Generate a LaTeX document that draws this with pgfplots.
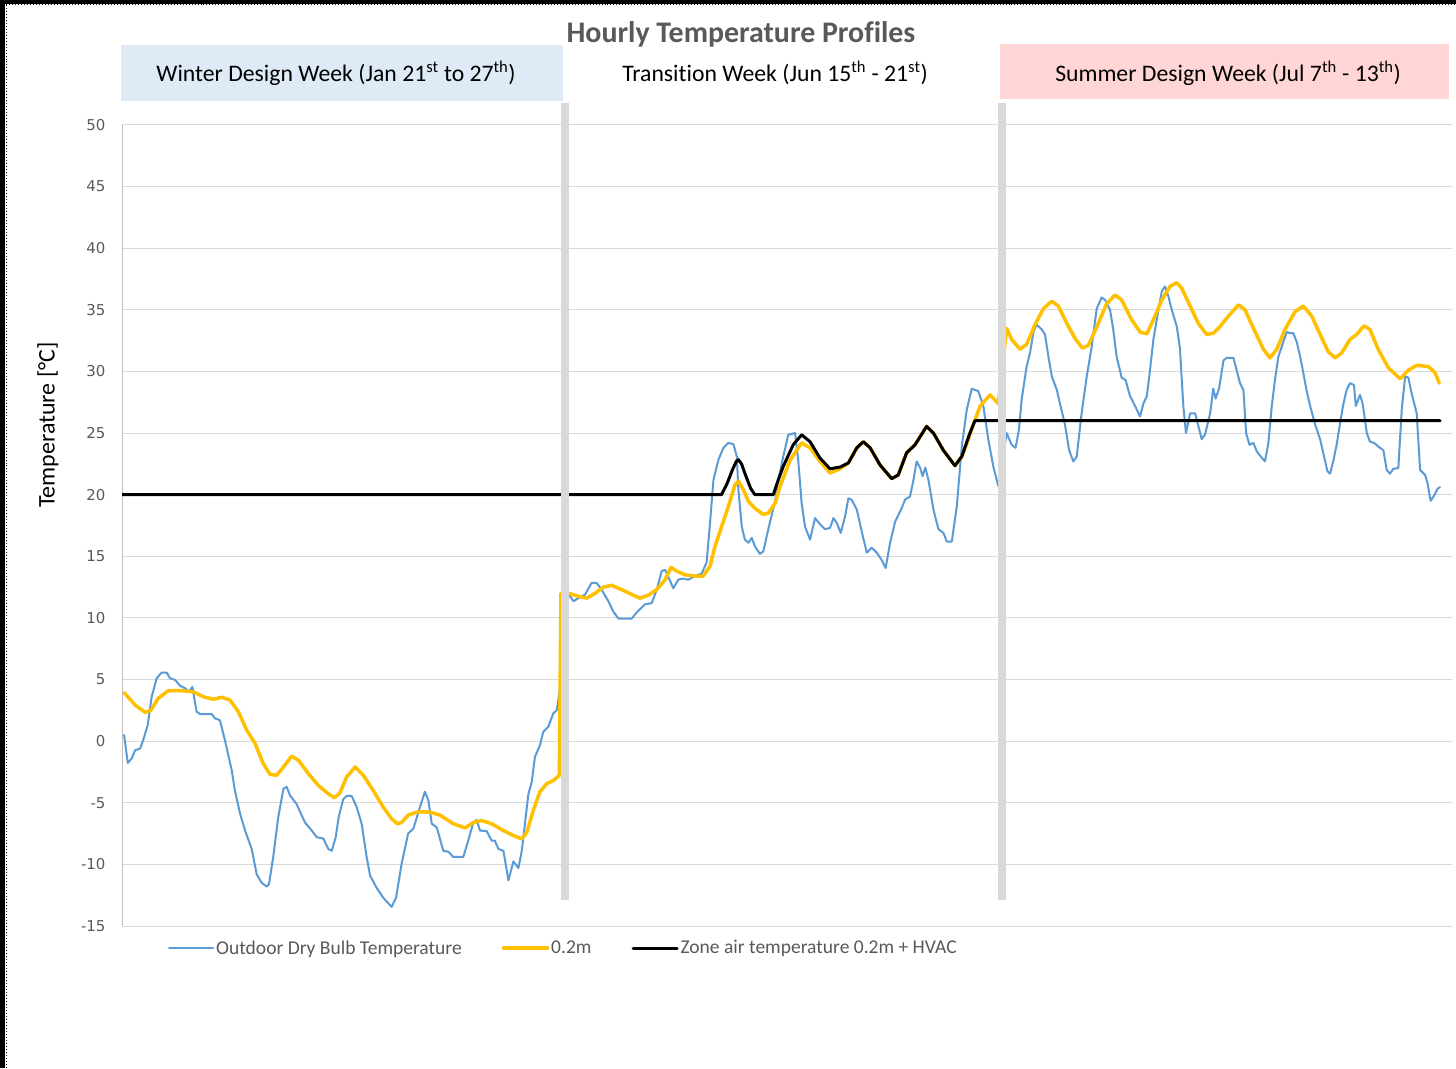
\documentclass[border=0pt]{standalone}
\usepackage{pgfplots}
\pgfplotsset{compat=1.18}
\usepackage{fontspec}
\setmainfont{Carlito}[Ligatures=NoCommon]
\newfontfamily\tickfont{DejaVu Sans}
\definecolor{odb}{HTML}{5B9BD5}
\definecolor{yel}{HTML}{FFC000}
\definecolor{txtgray}{HTML}{595959}
\definecolor{gridgray}{HTML}{D9D9D9}
\definecolor{axgray}{HTML}{BFBFBF}
\definecolor{winterbox}{HTML}{DEEBF7}
\definecolor{summerbox}{HTML}{FFD5D5}
\definecolor{barg}{HTML}{D9D9D9}

\begin{document}
\begin{tikzpicture}[x=1bp,y=1bp]
\useasboundingbox (0,0) rectangle (1456,1068);
\fill[white] (0,0) rectangle (1456,1068);
% header boxes
\fill[winterbox] (121,967) rectangle (563,1023);
\fill[summerbox] (1000,969) rectangle (1449,1024);
\node[font=\fontsize{30}{34}\selectfont\bfseries, text=txtgray] at (741,1034) {Hourly Temperature Profiles};
\node[font=\fontsize{23.8}{27}\selectfont] at (336,995) {Winter Design Week (Jan 21\textsuperscript{st} to 27\textsuperscript{th})};
\node[font=\fontsize{23.8}{27}\selectfont] at (775,995) {Transition Week (Jun 15\textsuperscript{th} - 21\textsuperscript{st})};
\node[font=\fontsize{23.8}{27}\selectfont] at (1228,995) {Summer Design Week (Jul 7\textsuperscript{th} - 13\textsuperscript{th})};
\node[font=\fontsize{24}{27}\selectfont, rotate=90] at (48,643) {Temperature [°C]};

\begin{axis}[
  at={(122bp,142bp)}, anchor=south west,
  scale only axis, width=1330bp, height=801bp,
  xmin=0, xmax=506.67, ymin=-15, ymax=50,
  ytick={-15,-10,...,50}, xtick=\empty,
  ymajorgrids, grid style={draw=gridgray, line width=1bp},
  separate axis lines,
  axis x line*=bottom, axis y line*=left,
  x axis line style={draw=gridgray, line width=1bp, -},
  y axis line style={draw=axgray, line width=1bp, -},
  major tick length=0pt,
  /pgf/number format/assume math mode=true,
  yticklabel style={font=\tickfont\fontsize{15}{18}\selectfont, text=txtgray, anchor=east, xshift=-13bp},
  legend style={at={(axis description cs:0.0346,-0.0275)}, anchor=west, draw=none, fill=none,
    inner sep=0pt, font=\fontsize{19.6}{22}\selectfont, text=txtgray,
    nodes={inner sep=2bp},
    /tikz/every even column/.append style={column sep=38bp}},
  legend columns=3,
  legend cell align=left,
  legend image code/.code={\draw[#1] (0bp,0bp) -- (44bp,0bp);},
  every axis plot/.append style={line join=round, line cap=round},
]
\addplot[odb, line width=2bp] coordinates {
(0.8,0.5) (2.2,-1.77) (3.7,-1.4) (5,-0.73) (6.9,-0.6) (8.1,0.1) (9.8,1.3) (11.3,3.6) (13.2,5.1) (15.1,5.57) (17,5.57) (18.3,5.1) (20.2,4.97) (22.1,4.5) (24,4.3) (25.5,4.0) (26.8,4.4) (28.4,2.4) (29.7,2.2) (34.2,2.2) (35.4,1.85) (37.3,1.7) (39.2,0.08) (41.8,-2.36) (43,-4) (45,-5.9) (46.9,-7.26) (49.4,-8.75) (51.3,-10.8) (53.2,-11.5) (55.1,-11.8) (56,-11.6) (57.6,-9.4) (59.5,-6.2) (61.5,-3.86) (62.7,-3.7) (64,-4.4) (66.5,-5.1) (69.7,-6.6) (72.3,-7.26) (74.2,-7.8) (76.7,-7.9) (78.6,-8.75) (79.9,-8.9) (81.4,-7.8) (82.6,-6.1) (84.3,-4.7) (85.6,-4.45) (87.5,-4.45) (89.4,-5.35) (91.3,-6.7) (93.2,-9.4) (94.5,-10.9) (97,-11.9) (99.5,-12.7) (102.7,-13.45) (104.4,-12.7) (106.5,-9.97) (109,-7.5) (111,-7.1) (113.5,-5.35) (115.4,-4.1) (116.7,-4.8) (118,-6.7) (119.9,-7.0) (122.4,-8.9) (124.3,-8.97) (126.2,-9.4) (130,-9.4) (131.9,-8.07) (133.8,-6.6) (135.1,-6.4) (136.4,-7.26) (138.9,-7.3) (140.8,-8.07) (142,-8.07) (143.4,-8.75) (145.3,-8.9) (147.2,-11.3) (149.1,-9.76) (151,-10.3) (152.3,-8.9) (153.5,-6.7) (154.8,-4.3) (156.1,-3.3) (157.3,-1.28) (159.2,-0.33) (160.5,0.76) (162.4,1.17) (164.3,2.26) (165.6,2.5) (166.9,4.3)
(168.5,11.9) (170.7,11.76) (172,11.35) (173.8,11.6) (176.4,11.9) (178.9,12.84) (180.8,12.84) (182.7,12.3) (185.3,11.35) (187.2,10.5) (189.1,9.95) (194.2,9.95) (196.1,10.46) (199.2,11.1) (201.8,11.2) (203.7,12.3) (205.6,13.8) (206.9,13.9) (208.8,13) (210,12.4) (211.9,13.1) (213.8,13.2) (215.7,13.1) (218.3,13.4) (220.8,13.6) (222.7,14.5) (224,17.7) (225.3,21.2) (227.2,22.84) (229.1,23.8) (231,24.2) (232.9,24.1) (234.2,23.1) (234.8,20.4) (236.1,17.4) (237.3,16.35) (238.6,16.1) (239.9,16.5) (241.1,15.8) (243,15.2) (244.3,15.4) (246.2,17.2) (248.8,19.5) (249.8,21) (251.9,23.1) (253.8,24.86) (256.4,25) (257.6,22.8) (258.9,19.3) (260.2,17.4) (262.1,16.35) (264,18.1) (265.9,17.6) (267.8,17.2) (269.7,17.3) (271,18.1) (272.3,17.7) (273.8,16.9) (275.4,18.2) (276.7,19.7) (277.9,19.6) (279.9,18.8) (281.8,17) (283.7,15.3) (285.6,15.7) (287.5,15.3) (289.4,14.7) (290.9,14.05) (292.6,16.1) (294.5,17.8) (297,18.9) (298.3,19.6) (300.2,19.86) (301.5,21.2) (302.7,22.7) (304,22.2) (305,21.5) (306,22.2) (307.2,21.2) (309.1,18.8) (311,17.2) (312.9,16.9) (314.2,16.2) (316.1,16.2) (318,19.05) (319.9,23.9) (321.8,26.9) (323.7,28.6) (326.2,28.4) (328.1,27.2) (330,24.5) (331.9,22.3) (333.8,20.7)
(337,25) (338.9,24.05) (340.4,23.8) (341.7,25.3) (342.7,27.7) (344.6,30.4) (345.9,31.5) (347.2,33.2) (348.4,33.8) (350.4,33.4) (351.6,33) (352.9,31.2) (354.2,29.6) (356.1,28.5) (357.3,27.4) (359.2,25.7) (360.8,23.6) (362.4,22.7) (363.7,23.1) (365.4,26.35) (367.5,29.6) (369.4,32) (371.3,35.1) (373.2,36) (374.5,35.8) (376.4,35) (377.6,33.4) (378.9,31.2) (380.8,29.5) (382.3,29.3) (384,28) (385.9,27.2) (387.8,26.35) (389.1,27.4) (390.4,28) (391.6,30.1) (392.9,32.6) (394.8,35) (396.1,36.5) (397.3,36.9) (398.6,36.1) (399.9,35) (401.8,33.65) (403,31.9) (404.3,27.2) (405.3,25) (406.9,26.6) (408.8,26.6) (411.3,24.5) (412.6,24.9) (414.5,26.6) (415.7,28.6) (416.6,27.8) (417.9,28.6) (419.6,30.9) (420.8,31.1) (423.4,31.1) (424.6,30.1) (425.9,29.05) (427.2,28.5) (428.2,25) (429.5,24.05) (431,24.2) (432.3,23.5) (434.2,23) (435.4,22.7) (436.7,24.2) (438,27.2) (439.2,29.3) (440.5,31.2) (442.4,32.4) (443.7,33.2) (445,33.1) (446.2,33.1) (447.5,32.4) (448.8,31.2) (450,29.9) (451.3,28.4) (452.6,27.2) (454.5,25.7) (456.4,24.5) (457.9,23.1) (459.2,21.9) (460.2,21.7) (461.5,22.8) (462.7,24.05) (464,25.8) (465.3,27.4) (466.5,28.5) (467.8,29.05) (469.3,28.9) (470,27.2) (471.6,28.1) (472.6,27.4) (474.2,25) (475.4,24.3) (477,24.2) (478.6,23.9) (480.5,23.6) (481.8,22) (483,21.7) (484.3,22.1) (486.2,22.16) (487.5,26.9) (488.8,29.6) (490,29.5) (491.3,28.2) (493.2,26.6) (494.5,22) (496.4,21.6) (497.3,20.95) (498.5,19.5) (499.8,19.9) (501.2,20.5) (502.1,20.6)
};
\addlegendentry{Outdoor Dry Bulb Temperature}
\addplot[yel, line width=3.5bp] coordinates {
(0.8,3.94) (5,2.93) (8.8,2.34) (11,2.5) (13.8,3.48) (17.7,4.1) (22.7,4.1) (27.2,4.0) (31,3.6) (34.8,3.4) (38,3.56) (41.1,3.34) (44.3,2.4) (47.5,0.9) (50.7,-0.2) (53.8,-1.82) (56.4,-2.7) (58.9,-2.77) (61.5,-2.1) (64.6,-1.22) (67.2,-1.55) (71,-2.64) (74.8,-3.6) (78.6,-4.27) (80.9,-4.6) (83,-4.2) (85.6,-2.9) (88.8,-2.1) (91.9,-2.77) (95.7,-4.0) (99.5,-5.35) (102.7,-6.3) (104.9,-6.7) (106.5,-6.6) (109,-6.0) (112.9,-5.73) (117.3,-5.76) (121.1,-6.0) (126.2,-6.7) (130.7,-7.04) (133.8,-6.6) (137,-6.44) (140.8,-6.7) (145.3,-7.26) (149.1,-7.66) (152.3,-7.93) (154.2,-7.4) (156.7,-5.6) (159.2,-4.1) (161.8,-3.45) (164.3,-3.2) (166.6,-2.77)
(167.2,12) (170,12) (173.8,11.76) (177,11.6) (180.2,12.0) (183.4,12.5) (186.5,12.65) (190.3,12.3) (194.2,11.9) (197.3,11.6) (200.5,11.84) (203.7,12.3) (206.9,13.1) (209.1,14.1) (211.3,13.8) (214.5,13.5) (218.3,13.4) (221.4,13.4) (224,14.2) (225.9,15.8) (228.4,17.4) (231,19.05) (233.5,20.8) (234.8,21.1) (236.7,20.4) (238.6,19.46) (241.1,18.9) (244.3,18.4) (246.2,18.5) (248.8,19.3) (250.7,20.7) (254.5,22.8) (258.9,24.2) (262.1,23.8) (265.9,22.7) (269.7,21.76) (273.5,22.1) (276.7,22.57) (279.9,23.8) (282.4,24.3) (285,23.8) (288.8,22.4) (293.2,21.3) (295.7,21.6) (298.9,23.4) (302.1,24.05) (306.5,25.54) (309.1,25) (312.9,23.6) (317.3,22.35) (319.9,23.1) (321.6,24) (324.3,25.7) (326.9,27.2) (330.7,28.1) (333.8,27.4)
(337,33.5) (338.9,32.6) (342.1,31.8) (344.6,32.2) (347.8,33.8) (351,35.1) (354.2,35.7) (356.7,35.3) (359.9,33.9) (363,32.7) (365.8,31.9) (368.1,32.1) (371.3,33.6) (375.1,35.5) (378.3,36.2) (380.8,35.8) (384.6,34.2) (387.8,33.2) (390.4,33.05) (392.9,34.2) (396.1,35.8) (399.2,36.9) (401.8,37.2) (403.7,36.75) (406.9,35.3) (410,33.9) (413.2,33) (415.7,33.1) (418.3,33.65) (421.5,34.5) (425.3,35.4) (427.8,35) (431,33.5) (434.8,31.8) (437.3,31.1) (439.9,31.8) (443,33.4) (446.9,34.86) (450,35.3) (453.2,34.5) (456.4,33) (459.5,31.6) (462.1,31.1) (464.6,31.5) (467.8,32.6) (470.3,33) (473.1,33.7) (475.4,33.4) (478.6,31.76) (482.4,30.3) (486.9,29.4) (490,30.1) (493.2,30.5) (497.6,30.4) (500.2,29.9) (501.8,29.05)
};
\addlegendentry{0.2m}
\addplot[black, line width=3bp] coordinates {
(0,20) (228.4,20) (230.5,20.9) (232.5,22) (234,22.7) (234.8,22.84) (236,22.5) (237.5,21.6) (239.5,20.5) (241.1,20) (248.1,20) (249.5,20.9) (251.9,22.3) (255.7,24.05) (258.9,24.86) (262.1,24.3) (265.9,22.97) (269.7,22.1) (273.5,22.24) (276.7,22.57) (279.9,23.8) (282.4,24.3) (285,23.8) (288.8,22.4) (293.2,21.3) (295.7,21.6) (298.9,23.4) (302.1,24.05) (306.5,25.54) (309.1,25) (312.9,23.6) (317.3,22.35) (319.9,23.1) (323,25) (324.9,26) (334.5,26) (337,26) (502.1,26)
};
\addlegendentry{Zone air temperature 0.2m + HVAC}
\end{axis}
% week separators
\fill[barg] (561,168) rectangle (569,965);
\fill[barg] (998,168) rectangle (1006,965);
% dotted frame at top and left
\fill[black] (0,1064) rectangle (1456,1068);
\fill[black] (0,0) rectangle (5,1068);
\draw[black, line width=1bp, dotted] (0,1063) -- (1456,1063);
\draw[black, line width=1bp, dotted] (6,0) -- (6,1068);
\end{tikzpicture}
\end{document}
